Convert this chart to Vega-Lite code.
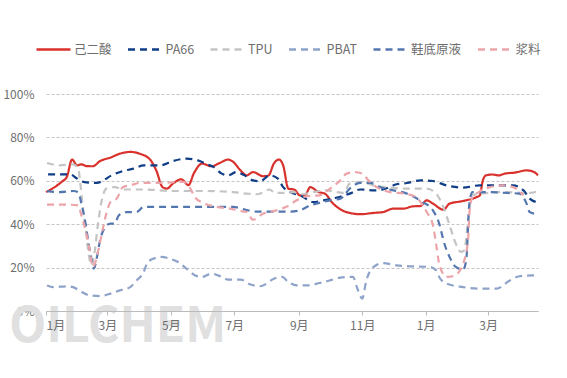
{
  "$schema": "https://vega.github.io/schema/vega-lite/v6.json",
  "width": 492,
  "height": 217,
  "autosize": "none",
  "padding": {"left": 46, "top": 94, "right": 29, "bottom": 67},
  "background": "white",
  "config": {
    "font": "Noto Sans CJK SC",
    "view": {"stroke": null}
  },
  "datasets": {
    "rates": [
      {"series":"己二酸","date":"2023-01-01","rate":54.8},
      {"series":"己二酸","date":"2023-01-16","rate":59.5},
      {"series":"己二酸","date":"2023-01-21","rate":61.8},
      {"series":"己二酸","date":"2023-01-26","rate":69.8},
      {"series":"己二酸","date":"2023-01-31","rate":67.1},
      {"series":"己二酸","date":"2023-02-04","rate":67.6},
      {"series":"己二酸","date":"2023-02-09","rate":66.8},
      {"series":"己二酸","date":"2023-02-15","rate":66.7},
      {"series":"己二酸","date":"2023-02-22","rate":69.1},
      {"series":"己二酸","date":"2023-03-04","rate":70.7},
      {"series":"己二酸","date":"2023-03-13","rate":72.5},
      {"series":"己二酸","date":"2023-03-23","rate":73.3},
      {"series":"己二酸","date":"2023-04-01","rate":72.5},
      {"series":"己二酸","date":"2023-04-11","rate":69.8},
      {"series":"己二酸","date":"2023-04-17","rate":64.8},
      {"series":"己二酸","date":"2023-04-23","rate":57.1},
      {"series":"己二酸","date":"2023-04-27","rate":56.4},
      {"series":"己二酸","date":"2023-05-03","rate":58.7},
      {"series":"己二酸","date":"2023-05-11","rate":60.7},
      {"series":"己二酸","date":"2023-05-18","rate":58.0},
      {"series":"己二酸","date":"2023-05-23","rate":63.3},
      {"series":"己二酸","date":"2023-05-31","rate":67.9},
      {"series":"己二酸","date":"2023-06-09","rate":66.7},
      {"series":"己二酸","date":"2023-06-17","rate":68.2},
      {"series":"己二酸","date":"2023-06-25","rate":69.8},
      {"series":"己二酸","date":"2023-06-30","rate":68.7},
      {"series":"己二酸","date":"2023-07-07","rate":64.8},
      {"series":"己二酸","date":"2023-07-13","rate":62.5},
      {"series":"己二酸","date":"2023-07-19","rate":64.0},
      {"series":"己二酸","date":"2023-07-29","rate":62.1},
      {"series":"己二酸","date":"2023-08-03","rate":62.5},
      {"series":"己二酸","date":"2023-08-08","rate":67.9},
      {"series":"己二酸","date":"2023-08-13","rate":69.8},
      {"series":"己二酸","date":"2023-08-17","rate":67.1},
      {"series":"己二酸","date":"2023-08-22","rate":56.4},
      {"series":"己二酸","date":"2023-08-28","rate":55.9},
      {"series":"己二酸","date":"2023-09-02","rate":53.3},
      {"series":"己二酸","date":"2023-09-07","rate":53.3},
      {"series":"己二酸","date":"2023-09-12","rate":57.1},
      {"series":"己二酸","date":"2023-09-20","rate":54.8},
      {"series":"己二酸","date":"2023-09-26","rate":54.1},
      {"series":"己二酸","date":"2023-10-04","rate":49.5},
      {"series":"己二酸","date":"2023-10-14","rate":46.1},
      {"series":"己二酸","date":"2023-10-20","rate":45.2},
      {"series":"己二酸","date":"2023-10-30","rate":44.6},
      {"series":"己二酸","date":"2023-11-12","rate":45.2},
      {"series":"己二酸","date":"2023-11-21","rate":45.6},
      {"series":"己二酸","date":"2023-12-01","rate":47.2},
      {"series":"己二酸","date":"2023-12-11","rate":47.2},
      {"series":"己二酸","date":"2023-12-19","rate":48.2},
      {"series":"己二酸","date":"2023-12-27","rate":48.4},
      {"series":"己二酸","date":"2024-01-02","rate":51.0},
      {"series":"己二酸","date":"2024-01-08","rate":49.5},
      {"series":"己二酸","date":"2024-01-18","rate":46.7},
      {"series":"己二酸","date":"2024-01-24","rate":49.5},
      {"series":"己二酸","date":"2024-02-05","rate":50.6},
      {"series":"己二酸","date":"2024-02-19","rate":52.5},
      {"series":"己二酸","date":"2024-02-22","rate":53.2},
      {"series":"己二酸","date":"2024-02-25","rate":60.2},
      {"series":"己二酸","date":"2024-02-28","rate":62.5},
      {"series":"己二酸","date":"2024-03-05","rate":62.9},
      {"series":"己二酸","date":"2024-03-11","rate":62.5},
      {"series":"己二酸","date":"2024-03-17","rate":63.3},
      {"series":"己二酸","date":"2024-03-27","rate":63.8},
      {"series":"己二酸","date":"2024-04-07","rate":64.8},
      {"series":"己二酸","date":"2024-04-14","rate":64.1},
      {"series":"己二酸","date":"2024-04-18","rate":62.5},

      {"series":"PA66","date":"2023-01-03","rate":63.0},
      {"series":"PA66","date":"2023-01-24","rate":63.0},
      {"series":"PA66","date":"2023-01-31","rate":61.0},
      {"series":"PA66","date":"2023-02-06","rate":59.5},
      {"series":"PA66","date":"2023-02-19","rate":59.0},
      {"series":"PA66","date":"2023-02-25","rate":60.2},
      {"series":"PA66","date":"2023-03-05","rate":62.5},
      {"series":"PA66","date":"2023-03-16","rate":64.5},
      {"series":"PA66","date":"2023-03-26","rate":65.6},
      {"series":"PA66","date":"2023-04-05","rate":67.1},
      {"series":"PA66","date":"2023-04-21","rate":67.1},
      {"series":"PA66","date":"2023-05-03","rate":69.1},
      {"series":"PA66","date":"2023-05-16","rate":70.2},
      {"series":"PA66","date":"2023-05-27","rate":69.4},
      {"series":"PA66","date":"2023-06-05","rate":67.6},
      {"series":"PA66","date":"2023-06-11","rate":66.4},
      {"series":"PA66","date":"2023-06-19","rate":63.3},
      {"series":"PA66","date":"2023-06-25","rate":62.5},
      {"series":"PA66","date":"2023-07-03","rate":64.0},
      {"series":"PA66","date":"2023-07-11","rate":62.5},
      {"series":"PA66","date":"2023-07-19","rate":60.2},
      {"series":"PA66","date":"2023-07-26","rate":59.8},
      {"series":"PA66","date":"2023-08-04","rate":62.5},
      {"series":"PA66","date":"2023-08-12","rate":61.0},
      {"series":"PA66","date":"2023-08-17","rate":57.1},
      {"series":"PA66","date":"2023-08-24","rate":54.8},
      {"series":"PA66","date":"2023-09-04","rate":52.9},
      {"series":"PA66","date":"2023-09-15","rate":50.2},
      {"series":"PA66","date":"2023-09-25","rate":51.0},
      {"series":"PA66","date":"2023-10-08","rate":52.3},
      {"series":"PA66","date":"2023-10-20","rate":54.1},
      {"series":"PA66","date":"2023-10-30","rate":56.0},
      {"series":"PA66","date":"2023-11-12","rate":55.6},
      {"series":"PA66","date":"2023-11-21","rate":56.0},
      {"series":"PA66","date":"2023-12-04","rate":58.4},
      {"series":"PA66","date":"2023-12-14","rate":59.0},
      {"series":"PA66","date":"2023-12-27","rate":60.2},
      {"series":"PA66","date":"2024-01-08","rate":59.9},
      {"series":"PA66","date":"2024-01-21","rate":57.9},
      {"series":"PA66","date":"2024-02-06","rate":56.9},
      {"series":"PA66","date":"2024-02-22","rate":57.9},
      {"series":"PA66","date":"2024-03-25","rate":57.9},
      {"series":"PA66","date":"2024-04-04","rate":55.6},
      {"series":"PA66","date":"2024-04-10","rate":51.8},
      {"series":"PA66","date":"2024-04-18","rate":50.0},

      {"series":"TPU","date":"2023-01-02","rate":68.2},
      {"series":"TPU","date":"2023-01-14","rate":67.1},
      {"series":"TPU","date":"2023-01-27","rate":67.6},
      {"series":"TPU","date":"2023-02-01","rate":65.6},
      {"series":"TPU","date":"2023-02-03","rate":58.7},
      {"series":"TPU","date":"2023-02-05","rate":49.5},
      {"series":"TPU","date":"2023-02-08","rate":38.7},
      {"series":"TPU","date":"2023-02-11","rate":26.4},
      {"series":"TPU","date":"2023-02-14","rate":21.0},
      {"series":"TPU","date":"2023-02-17","rate":28.0},
      {"series":"TPU","date":"2023-02-20","rate":40.3},
      {"series":"TPU","date":"2023-02-24","rate":51.8},
      {"series":"TPU","date":"2023-02-28","rate":56.4},
      {"series":"TPU","date":"2023-03-08","rate":57.1},
      {"series":"TPU","date":"2023-03-16","rate":56.0},
      {"series":"TPU","date":"2023-04-06","rate":56.0},
      {"series":"TPU","date":"2023-05-03","rate":55.3},
      {"series":"TPU","date":"2023-06-05","rate":55.3},
      {"series":"TPU","date":"2023-06-30","rate":54.8},
      {"series":"TPU","date":"2023-07-13","rate":54.1},
      {"series":"TPU","date":"2023-07-23","rate":53.8},
      {"series":"TPU","date":"2023-07-29","rate":54.8},
      {"series":"TPU","date":"2023-08-04","rate":56.0},
      {"series":"TPU","date":"2023-08-09","rate":54.4},
      {"series":"TPU","date":"2023-08-17","rate":54.4},
      {"series":"TPU","date":"2023-08-27","rate":54.8},
      {"series":"TPU","date":"2023-09-04","rate":53.8},
      {"series":"TPU","date":"2023-09-15","rate":54.8},
      {"series":"TPU","date":"2023-09-28","rate":55.6},
      {"series":"TPU","date":"2023-10-08","rate":54.8},
      {"series":"TPU","date":"2023-10-14","rate":54.4},
      {"series":"TPU","date":"2023-10-20","rate":58.7},
      {"series":"TPU","date":"2023-10-30","rate":59.5},
      {"series":"TPU","date":"2023-11-12","rate":57.9},
      {"series":"TPU","date":"2023-11-28","rate":56.9},
      {"series":"TPU","date":"2023-12-14","rate":56.4},
      {"series":"TPU","date":"2024-01-02","rate":56.4},
      {"series":"TPU","date":"2024-01-11","rate":54.1},
      {"series":"TPU","date":"2024-01-18","rate":47.9},
      {"series":"TPU","date":"2024-01-24","rate":39.5},
      {"series":"TPU","date":"2024-01-30","rate":31.0},
      {"series":"TPU","date":"2024-02-04","rate":27.2},
      {"series":"TPU","date":"2024-02-07","rate":28.0},
      {"series":"TPU","date":"2024-02-11","rate":41.8},
      {"series":"TPU","date":"2024-02-14","rate":53.3},
      {"series":"TPU","date":"2024-03-15","rate":54.8},
      {"series":"TPU","date":"2024-04-10","rate":54.4},
      {"series":"TPU","date":"2024-04-18","rate":55.3},

      {"series":"PBAT","date":"2023-01-02","rate":11.8},
      {"series":"PBAT","date":"2023-01-08","rate":11.0},
      {"series":"PBAT","date":"2023-01-21","rate":11.4},
      {"series":"PBAT","date":"2023-01-27","rate":11.0},
      {"series":"PBAT","date":"2023-02-04","rate":8.8},
      {"series":"PBAT","date":"2023-02-12","rate":7.2},
      {"series":"PBAT","date":"2023-02-22","rate":6.9},
      {"series":"PBAT","date":"2023-03-04","rate":8.0},
      {"series":"PBAT","date":"2023-03-13","rate":9.5},
      {"series":"PBAT","date":"2023-03-23","rate":11.0},
      {"series":"PBAT","date":"2023-03-29","rate":14.1},
      {"series":"PBAT","date":"2023-04-05","rate":18.0},
      {"series":"PBAT","date":"2023-04-08","rate":21.8},
      {"series":"PBAT","date":"2023-04-14","rate":24.1},
      {"series":"PBAT","date":"2023-04-22","rate":24.9},
      {"series":"PBAT","date":"2023-04-30","rate":24.1},
      {"series":"PBAT","date":"2023-05-08","rate":22.6},
      {"series":"PBAT","date":"2023-05-16","rate":19.5},
      {"series":"PBAT","date":"2023-05-24","rate":16.5},
      {"series":"PBAT","date":"2023-05-31","rate":15.7},
      {"series":"PBAT","date":"2023-06-09","rate":17.2},
      {"series":"PBAT","date":"2023-06-19","rate":15.7},
      {"series":"PBAT","date":"2023-06-25","rate":14.5},
      {"series":"PBAT","date":"2023-07-07","rate":14.5},
      {"series":"PBAT","date":"2023-07-16","rate":12.3},
      {"series":"PBAT","date":"2023-07-26","rate":11.4},
      {"series":"PBAT","date":"2023-08-01","rate":12.6},
      {"series":"PBAT","date":"2023-08-08","rate":14.9},
      {"series":"PBAT","date":"2023-08-16","rate":15.7},
      {"series":"PBAT","date":"2023-08-22","rate":13.4},
      {"series":"PBAT","date":"2023-08-30","rate":11.8},
      {"series":"PBAT","date":"2023-09-09","rate":11.8},
      {"series":"PBAT","date":"2023-09-21","rate":12.9},
      {"series":"PBAT","date":"2023-10-01","rate":14.1},
      {"series":"PBAT","date":"2023-10-11","rate":15.4},
      {"series":"PBAT","date":"2023-10-23","rate":15.7},
      {"series":"PBAT","date":"2023-10-28","rate":9.5},
      {"series":"PBAT","date":"2023-11-01","rate":5.7},
      {"series":"PBAT","date":"2023-11-05","rate":14.1},
      {"series":"PBAT","date":"2023-11-12","rate":20.3},
      {"series":"PBAT","date":"2023-11-21","rate":22.1},
      {"series":"PBAT","date":"2023-12-04","rate":21.0},
      {"series":"PBAT","date":"2023-12-17","rate":20.6},
      {"series":"PBAT","date":"2024-01-05","rate":20.3},
      {"series":"PBAT","date":"2024-01-11","rate":18.8},
      {"series":"PBAT","date":"2024-01-14","rate":15.7},
      {"series":"PBAT","date":"2024-01-21","rate":12.6},
      {"series":"PBAT","date":"2024-02-06","rate":11.0},
      {"series":"PBAT","date":"2024-02-22","rate":10.3},
      {"series":"PBAT","date":"2024-03-09","rate":10.3},
      {"series":"PBAT","date":"2024-03-22","rate":14.1},
      {"series":"PBAT","date":"2024-03-31","rate":16.0},
      {"series":"PBAT","date":"2024-04-13","rate":16.4},
      {"series":"PBAT","date":"2024-04-18","rate":16.4},

      {"series":"鞋底原液","date":"2023-01-02","rate":55.2},
      {"series":"鞋底原液","date":"2023-01-14","rate":54.8},
      {"series":"鞋底原液","date":"2023-01-27","rate":55.3},
      {"series":"鞋底原液","date":"2023-02-01","rate":54.8},
      {"series":"鞋底原液","date":"2023-02-04","rate":49.5},
      {"series":"鞋底原液","date":"2023-02-08","rate":40.3},
      {"series":"鞋底原液","date":"2023-02-11","rate":31.0},
      {"series":"鞋底原液","date":"2023-02-14","rate":23.4},
      {"series":"鞋底原液","date":"2023-02-16","rate":19.5},
      {"series":"鞋底原液","date":"2023-02-19","rate":24.9},
      {"series":"鞋底原液","date":"2023-02-22","rate":32.6},
      {"series":"鞋底原液","date":"2023-02-27","rate":38.7},
      {"series":"鞋底原液","date":"2023-03-04","rate":40.3},
      {"series":"鞋底原液","date":"2023-03-08","rate":40.3},
      {"series":"鞋底原液","date":"2023-03-12","rate":44.1},
      {"series":"鞋底原液","date":"2023-03-20","rate":45.6},
      {"series":"鞋底原液","date":"2023-03-29","rate":45.6},
      {"series":"鞋底原液","date":"2023-04-05","rate":48.0},
      {"series":"鞋底原液","date":"2023-06-30","rate":48.0},
      {"series":"鞋底原液","date":"2023-07-13","rate":46.5},
      {"series":"鞋底原液","date":"2023-07-23","rate":45.8},
      {"series":"鞋底原液","date":"2023-08-24","rate":45.8},
      {"series":"鞋底原液","date":"2023-09-02","rate":46.4},
      {"series":"鞋底原液","date":"2023-09-12","rate":48.7},
      {"series":"鞋底原液","date":"2023-09-21","rate":49.8},
      {"series":"鞋底原液","date":"2023-10-01","rate":51.0},
      {"series":"鞋底原液","date":"2023-10-11","rate":51.8},
      {"series":"鞋底原液","date":"2023-10-20","rate":56.4},
      {"series":"鞋底原液","date":"2023-10-30","rate":59.0},
      {"series":"鞋底原液","date":"2023-11-09","rate":59.0},
      {"series":"鞋底原液","date":"2023-11-18","rate":57.1},
      {"series":"鞋底原液","date":"2023-12-01","rate":55.6},
      {"series":"鞋底原液","date":"2023-12-14","rate":54.1},
      {"series":"鞋底原液","date":"2023-12-29","rate":50.2},
      {"series":"鞋底原液","date":"2024-01-08","rate":46.4},
      {"series":"鞋底原液","date":"2024-01-14","rate":40.3},
      {"series":"鞋底原液","date":"2024-01-19","rate":31.0},
      {"series":"鞋底原液","date":"2024-01-24","rate":24.9},
      {"series":"鞋底原液","date":"2024-01-30","rate":20.3},
      {"series":"鞋底原液","date":"2024-02-06","rate":19.1},
      {"series":"鞋底原液","date":"2024-02-09","rate":23.4},
      {"series":"鞋底原液","date":"2024-02-12","rate":49.5},
      {"series":"鞋底原液","date":"2024-02-15","rate":54.8},
      {"series":"鞋底原液","date":"2024-02-28","rate":54.8},
      {"series":"鞋底原液","date":"2024-03-19","rate":54.4},
      {"series":"鞋底原液","date":"2024-03-31","rate":54.1},
      {"series":"鞋底原液","date":"2024-04-07","rate":49.5},
      {"series":"鞋底原液","date":"2024-04-10","rate":45.6},
      {"series":"鞋底原液","date":"2024-04-15","rate":44.9},
      {"series":"鞋底原液","date":"2024-04-18","rate":45.5},

      {"series":"浆料","date":"2023-01-02","rate":49.0},
      {"series":"浆料","date":"2023-01-21","rate":49.0},
      {"series":"浆料","date":"2023-02-01","rate":48.7},
      {"series":"浆料","date":"2023-02-04","rate":44.1},
      {"series":"浆料","date":"2023-02-08","rate":37.2},
      {"series":"浆料","date":"2023-02-12","rate":28.0},
      {"series":"浆料","date":"2023-02-15","rate":20.3},
      {"series":"浆料","date":"2023-02-17","rate":21.8},
      {"series":"浆料","date":"2023-02-21","rate":29.5},
      {"series":"浆料","date":"2023-02-25","rate":38.7},
      {"series":"浆料","date":"2023-02-28","rate":44.9},
      {"series":"浆料","date":"2023-03-04","rate":50.2},
      {"series":"浆料","date":"2023-03-10","rate":51.8},
      {"series":"浆料","date":"2023-03-16","rate":57.1},
      {"series":"浆料","date":"2023-03-23","rate":57.9},
      {"series":"浆料","date":"2023-04-01","rate":59.0},
      {"series":"浆料","date":"2023-04-21","rate":59.0},
      {"series":"浆料","date":"2023-05-13","rate":59.5},
      {"series":"浆料","date":"2023-05-19","rate":57.1},
      {"series":"浆料","date":"2023-05-24","rate":52.5},
      {"series":"浆料","date":"2023-06-01","rate":49.8},
      {"series":"浆料","date":"2023-06-14","rate":48.0},
      {"series":"浆料","date":"2023-06-27","rate":47.2},
      {"series":"浆料","date":"2023-07-07","rate":46.1},
      {"series":"浆料","date":"2023-07-13","rate":45.6},
      {"series":"浆料","date":"2023-07-19","rate":42.1},
      {"series":"浆料","date":"2023-07-29","rate":44.9},
      {"series":"浆料","date":"2023-08-11","rate":46.4},
      {"series":"浆料","date":"2023-08-20","rate":48.0},
      {"series":"浆料","date":"2023-08-30","rate":51.0},
      {"series":"浆料","date":"2023-09-09","rate":52.9},
      {"series":"浆料","date":"2023-09-21","rate":53.3},
      {"series":"浆料","date":"2023-10-01","rate":56.4},
      {"series":"浆料","date":"2023-10-11","rate":60.2},
      {"series":"浆料","date":"2023-10-17","rate":63.3},
      {"series":"浆料","date":"2023-10-25","rate":64.0},
      {"series":"浆料","date":"2023-11-01","rate":63.3},
      {"series":"浆料","date":"2023-11-07","rate":60.2},
      {"series":"浆料","date":"2023-11-15","rate":57.1},
      {"series":"浆料","date":"2023-11-28","rate":54.8},
      {"series":"浆料","date":"2023-12-11","rate":54.1},
      {"series":"浆料","date":"2023-12-23","rate":52.5},
      {"series":"浆料","date":"2023-12-28","rate":49.5},
      {"series":"浆料","date":"2024-01-02","rate":45.6},
      {"series":"浆料","date":"2024-01-08","rate":39.5},
      {"series":"浆料","date":"2024-01-11","rate":31.0},
      {"series":"浆料","date":"2024-01-14","rate":21.8},
      {"series":"浆料","date":"2024-01-21","rate":15.7},
      {"series":"浆料","date":"2024-01-27","rate":16.0},
      {"series":"浆料","date":"2024-02-03","rate":18.8},
      {"series":"浆料","date":"2024-02-07","rate":23.1},
      {"series":"浆料","date":"2024-02-11","rate":34.1},
      {"series":"浆料","date":"2024-02-12","rate":44.9},
      {"series":"浆料","date":"2024-02-15","rate":52.5},
      {"series":"浆料","date":"2024-02-21","rate":54.8},
      {"series":"浆料","date":"2024-03-03","rate":57.1},
      {"series":"浆料","date":"2024-03-15","rate":57.9},
      {"series":"浆料","date":"2024-03-25","rate":57.1},
      {"series":"浆料","date":"2024-04-04","rate":53.3}
    ]
  },
  "layer": [
    {
      "data": {"values": [{"mark": "OILCHEM"}]},
      "mark": {"type": "text", "fontSize": 48, "fontWeight": "bold", "font": "Noto Sans CJK SC", "color": "#e0e0e0", "baseline": "middle", "align": "center"},
      "encoding": {
        "text": {"field": "mark"},
        "x": {"datum": {"year": 2023, "month": 3, "date": 11}, "type": "temporal"},
        "y": {"datum": -7.8, "type": "quantitative"}
      }
    },
    {
      "data": {"name": "rates", "format": {"parse": {"date": "date:'%Y-%m-%d'"}}},
      "mark": {"type": "line", "interpolate": "monotone", "strokeWidth": 2.2},
      "encoding": {
        "x": {
          "field": "date", "type": "temporal",
          "scale": {"domain": [{"year": 2023, "month": 1, "date": 1}, {"year": 2024, "month": 4, "date": 18}]},
          "axis": {
            "title": null, "format": "%-m月", "tickCount": {"interval": "month", "step": 2},
            "grid": false, "domainColor": "#bbbbbb", "tickColor": "#bbbbbb", "tickSize": 4,
            "labelColor": "#6e6e6e", "labelFontSize": 12, "labelPadding": 5, "zindex": 1
          }
        },
        "y": {
          "field": "rate", "type": "quantitative",
          "scale": {"domain": [0, 100]},
          "axis": {
            "title": null, "values": [0, 20, 40, 60, 80, 100], "labelExpr": "datum.value + '%'",
            "domain": false, "ticks": false, "grid": true, "gridDash": [3, 2], "gridColor": "#c4c4c4",
            "labelColor": "#6e6e6e", "labelFontSize": 12, "labelPadding": 12
          }
        },
        "color": {
          "field": "series", "type": "nominal",
          "scale": {
            "domain": ["己二酸", "PA66", "TPU", "PBAT", "鞋底原液", "浆料"],
            "range": ["#d9312b", "#0f3d86", "#c4c4c4", "#8ea3c9", "#5577b0", "#eca4a9"]
          },
          "legend": {
            "title": null, "orient": "none", "direction": "horizontal", "legendX": -11, "legendY": -63,
            "symbolType": "stroke", "symbolSize": 1156, "symbolStrokeWidth": 2.5,
            "labelFontSize": 12.5, "labelColor": "#6e6e6e", "labelOffset": 2, "columnPadding": 10.5
          }
        },
        "strokeDash": {
          "field": "series", "type": "nominal",
          "scale": {
            "domain": ["己二酸", "PA66", "TPU", "PBAT", "鞋底原液", "浆料"],
            "range": [[1, 0], [7, 5], [7, 5], [7, 5], [7, 5], [7, 5]]
          },
          "legend": null
        }
      }
    }
  ]
}
